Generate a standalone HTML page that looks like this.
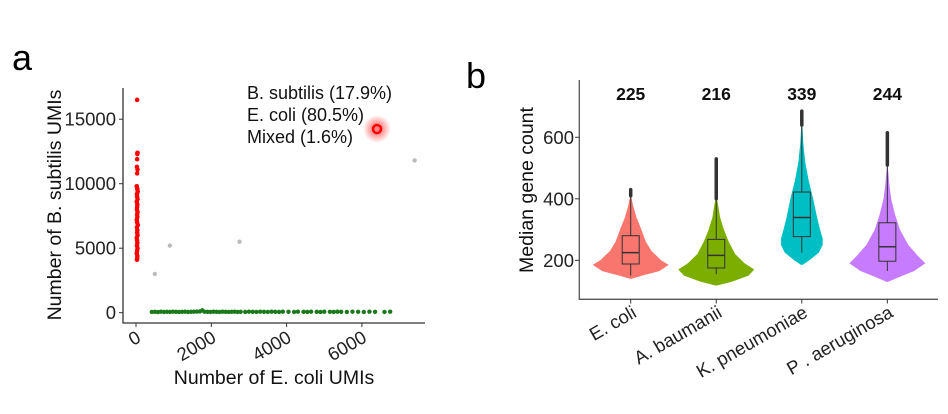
<!DOCTYPE html>
<html><head><meta charset="utf-8"><style>
html,body{margin:0;padding:0;background:#fff;}
body{width:948px;height:409px;overflow:hidden;font-family:"Liberation Sans",sans-serif;}
svg text{font-family:"Liberation Sans",sans-serif;}
</style></head><body>
<svg id="chart" width="948" height="409" viewBox="0 0 948 409">
<defs><radialGradient id="glow"><stop offset="0.3" stop-color="#ff3333" stop-opacity="0.6"/><stop offset="1" stop-color="#ff3333" stop-opacity="0"/></radialGradient></defs>
<g id="pa"></g>
<g id="pb"></g>
</svg>
<script>
// ---- Panel a data ----
const xTicksA = [0, 2000, 4000, 6000];
const yTicksA = [0, 5000, 10000, 15000];
const bsubY = [16500,12400,12300,11900,11300,11100,10800,9800,9600,9400,9200,9000,8800,8600,8400,8200,8000,7800,7600,7400,7200,7000,6800,6600,6400,6200,6000,5800,5600,5400,5200,5000,4800,4600,4400,4200,4100];
const bsubX = [30,40,35,30,25,40,30,20,35,45,25,30,40,20,35,30,25,40,30,35,20,30,45,25,35,30,40,20,30,35,25,40,30,20,35,30,25];
const ecoliX = [420,500,580,660,740,820,900,980,1060,1140,1220,1300,1380,1460,1540,1620,1700,1760,1820,1900,1980,2060,2140,2220,2300,2380,2460,2540,2620,2700,2780,2900,3000,3100,3200,3300,3400,3500,3600,3700,3800,3900,4050,4200,4300,4450,4550,4650,4800,4900,5000,5150,5250,5350,5450,5600,5750,5900,6050,6200,6350,6600,6750];
const ecoliY = [60,70,50,80,60,70,60,80,70,60,70,80,60,70,80,90,100,180,80,70,60,80,70,60,80,70,60,70,80,60,70,60,80,70,60,80,70,60,80,70,60,80,70,60,80,70,60,80,70,60,80,70,60,80,70,60,80,70,60,80,70,60,80];
const mixedX = [500, 900, 2750, 7400];
const mixedY = [3000, 5200, 5500, 11800];
// ---- Panel b data ----
const categories = ["E. coli","A. baumanii","K. pneumoniae","P . aeruginosa"];
const medians = [225,216,339,244];
const q1s = [188,175,277,197];
const q3s = [280,268,422,322];
const whiskLo = [150,155,225,165];
const whiskHi = [410,400,640,510];
const outMax = [430,530,685,615];
const colors = ["#f8766d","#7cae00","#00bfc4","#c77cff"];
const vLevels = [
 [140,150,165,185,200,230,260,300,340,380,410],
 [118,130,150,170,190,220,260,300,340,380,405],
 [185,200,225,250,270,300,340,400,460,520,580,650],
 [130,145,165,190,215,250,300,350,400,450,510]];
const vWidths = [
 [0.02,0.3,0.75,1.0,0.8,0.55,0.4,0.28,0.15,0.06,0.01],
 [0.02,0.4,0.85,1.0,0.75,0.5,0.33,0.2,0.1,0.05,0.01],
 [0.02,0.2,0.45,0.55,0.55,0.48,0.4,0.3,0.18,0.09,0.04,0.01],
 [0.02,0.3,0.7,1.0,0.8,0.55,0.33,0.2,0.1,0.05,0.01]];

const NS="http://www.w3.org/2000/svg";
function mk(parent,tag,attrs,txt){const e=document.createElementNS(NS,tag);for(const k in attrs)e.setAttribute(k,attrs[k]);if(txt!==undefined)e.textContent=txt;parent.appendChild(e);return e;}

// ---- Panel a ----
const pa=document.getElementById('pa');
const ax=v=>136+v*(75.3/2000), ay=v=>312.7-v*(64.5/5000);
let t=mk(pa,'text',{x:12,y:70,'font-size':36},'a');


let l=mk(pa,'path',{d:'M123,88 V323 H425',stroke:'#333','stroke-width':1.3,fill:'none'});


xTicksA.forEach(v=>{
 mk(pa,'line',{x1:ax(v),x2:ax(v),y1:323,y2:327,stroke:'#333'});
 const tx=mk(pa,'text',{x:ax(v)+6,y:341,'font-size':18.5,'text-anchor':'end',fill:'#222',transform:`rotate(-30 ${ax(v)+6} 341)`},String(v));
 
 
});
yTicksA.forEach(v=>{
 mk(pa,'line',{x1:119,x2:123,y1:ay(v),y2:ay(v),stroke:'#333'});
 const tx=mk(pa,'text',{x:116,y:ay(v)+6.5,'font-size':18.5,'text-anchor':'end',fill:'#222'},String(v));
 
 
});
t=mk(pa,'text',{x:274,y:384,'font-size':19.5,'text-anchor':'middle',fill:'#111'},'Number of E. coli UMIs');


t=mk(pa,'text',{x:0,y:0,'font-size':19.5,'text-anchor':'middle',fill:'#111',transform:'translate(61,205) rotate(-90)'},'Number of B. subtilis UMIs');


ecoliX.forEach((x,i)=>{const c=mk(pa,'circle',{cx:ax(x),cy:ay(ecoliY[i]),r:2.2,fill:'#1a7a1a'});
 
 });
bsubY.forEach((y,i)=>{const c=mk(pa,'circle',{cx:ax(bsubX[i]),cy:ay(y),r:2.3,fill:'#ff0000'});
 
 });
mixedX.forEach((x,i)=>{const c=mk(pa,'circle',{cx:ax(x),cy:ay(mixedY[i]),r:2.2,fill:'#bbbbbb'});
 
 });
['B. subtilis (17.9%)','E. coli (80.5%)','Mixed (1.6%)'].forEach((s,i)=>{
 const tx=mk(pa,'text',{x:247,y:99+i*22,'font-size':18,fill:'#111'},s);
 
 
});
mk(pa,'circle',{cx:377,cy:129,r:14,fill:'url(#glow)'});
const ring=mk(pa,'circle',{cx:377,cy:129,r:4,fill:'none',stroke:'#ff0000','stroke-width':2.5});



// ---- Panel b ----
const pb=document.getElementById('pb');
const by=v=>260.3-(v-200)*(61.5/200);
const bx=i=>630.7+i*85.55;
t=mk(pb,'text',{x:466,y:88,'font-size':36},'b');


l=mk(pb,'path',{d:'M579.3,80 V299.3 H938',stroke:'#555','stroke-width':1.3,fill:'none'});


[200,400,600].forEach(v=>{
 mk(pb,'line',{x1:575,x2:579.3,y1:by(v),y2:by(v),stroke:'#333'});
 const tx=mk(pb,'text',{x:574,y:by(v)+6.5,'font-size':18.5,'text-anchor':'end',fill:'#222'},String(v));
 
 
});
t=mk(pb,'text',{x:0,y:0,'font-size':19.5,'text-anchor':'middle',fill:'#111',transform:'translate(533,190) rotate(-90)'},'Median gene count');


categories.forEach((c,i)=>{
 const cx=bx(i), W=38;
 mk(pb,'line',{x1:cx,x2:cx,y1:299.3,y2:303.5,stroke:'#333'});
 const lv=vLevels[i], wd=vWidths[i];
 let d='M'+cx+','+by(lv[0]);
 for(let k=0;k<lv.length;k++)d+=' L'+(cx+wd[k]*W)+','+by(lv[k]);
 for(let k=lv.length-1;k>=0;k--)d+=' L'+(cx-wd[k]*W)+','+by(lv[k]);
 const v=mk(pb,'path',{d:d+'Z',fill:colors[i],stroke:'none'});
 
 
 const wl=mk(pb,'line',{x1:cx,x2:cx,y1:by(whiskLo[i]),y2:by(whiskHi[i]),stroke:'#333','stroke-width':1});
 
 
 const ol=mk(pb,'line',{x1:cx,x2:cx,y1:by(whiskHi[i]),y2:by(outMax[i]),stroke:'#333','stroke-width':3.5,'stroke-linecap':'round'});
 
 
 const b=mk(pb,'rect',{x:cx-8.5,y:by(q3s[i]),width:17,height:by(q1s[i])-by(q3s[i]),fill:colors[i],stroke:'#333','stroke-width':1});
 
 
 const m=mk(pb,'line',{x1:cx-8.5,x2:cx+8.5,y1:by(medians[i]),y2:by(medians[i]),stroke:'#333','stroke-width':1.5});
 
 
 const mt=mk(pb,'text',{x:cx,y:100,'font-size':17.5,'font-weight':'bold','text-anchor':'middle',fill:'#111'},String(medians[i]));
 
 
 const tx=mk(pb,'text',{x:cx+7,y:316,'font-size':18.5,'text-anchor':'end',fill:'#222',transform:`rotate(-30 ${cx+7} 316)`},c);
 
 
});
</script>
</body></html>
